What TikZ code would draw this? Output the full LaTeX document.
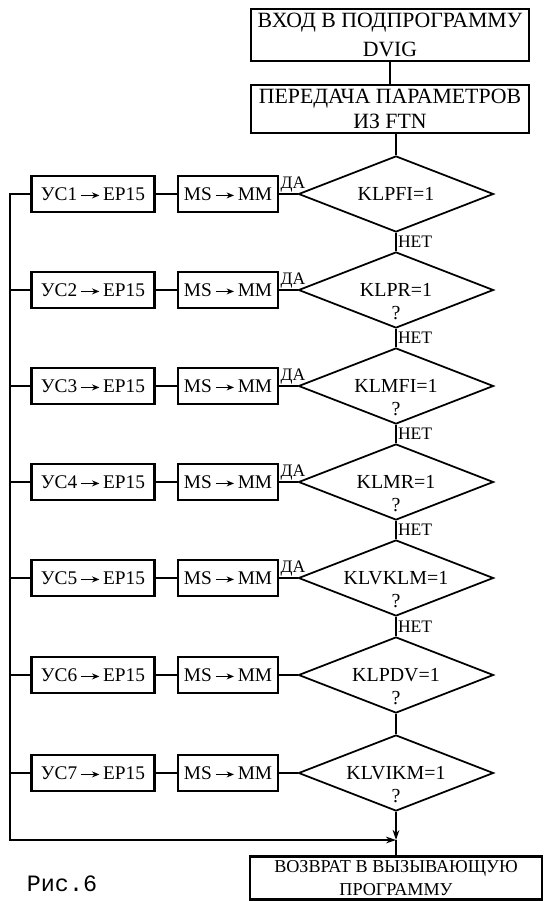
\documentclass[tikz,border=0pt]{standalone}
\usepackage{fontspec}
\setmainfont{Liberation Serif}
\newfontfamily\monofont{Liberation Mono}
\usetikzlibrary{arrows.meta,shapes.geometric}
\newcommand\passto{\,\tikz[baseline=-0.55ex]\draw[line width=1pt,-{Stealth[length=2.2mm,width=1.8mm]}] (0mm,0mm) -- (5.5mm,0mm);\,}

\begin{document}
\begin{tikzpicture}[
  x=0.03cm, y=-0.03cm,
  >={Stealth[length=3mm,width=2mm]},
  block/.style={
    draw,
    line width=2.3pt,
    fill=white,
    inner sep=1pt,
    align=center
  },
  bigbox/.style={
    block,
    minimum width=8.34cm,
    minimum height=1.56cm,
    font=\fontsize{18.6}{24}\selectfont
  },
  usbox/.style={
    block,
    minimum width=3.69cm,
    minimum height=1.08cm,
    font=\fontsize{16.5}{18}\selectfont
  },
  msbox/.style={usbox, minimum width=3.0cm},
  check/.style={
    diamond,
    draw,
    line width=1.5pt,
    aspect=2.57,
    minimum width=5.85cm,
    minimum height=2.28cm,
    inner sep=0pt,
    font=\fontsize{17}{19}\selectfont
  },
  ask/.style={label={[font=\fontsize{17}{19}\selectfont,yshift=-7mm]center:?}},
  link/.style={line width=1.5pt},
  edge/.style={->,line width=1.5pt},
  answer/.style={font=\fontsize{15}{17}\selectfont,inner sep=1pt}
]
\useasboundingbox (0,0) rectangle (547,901);

\node[bigbox] (entry) at (390,35) {ВХОД В ПОДПРОГРАММУ\\DVIG};
\node[bigbox, minimum height=1.44cm, font=\fontsize{18.6}{22}\selectfont] (params) at (390,109) {ПЕРЕДАЧА ПАРАМЕТРОВ\\ИЗ FTN};

\node[check] (d1) at (396,194) {KLPFI=1};
\node[check,ask] (d2) at (396,290) {KLPR=1};
\node[check,ask] (d3) at (396,386) {KLMFI=1};
\node[check,ask] (d4) at (396,482) {KLMR=1};
\node[check,ask] (d5) at (396,578) {KLVKLM=1};
\node[check,ask] (d6) at (396,675) {KLPDV=1};
\node[check,ask] (d7) at (396,773) {KLVIKM=1};

\node[msbox] (ms1) at (228,194) {MS\passto MM};
\node[msbox] (ms2) at (228,290) {MS\passto MM};
\node[msbox] (ms3) at (228,386) {MS\passto MM};
\node[msbox] (ms4) at (228,482) {MS\passto MM};
\node[msbox] (ms5) at (228,578) {MS\passto MM};
\node[msbox] (ms6) at (228,675) {MS\passto MM};
\node[msbox] (ms7) at (228,773) {MS\passto MM};

\node[usbox] (us1) at (93,194) {УС1\passto ЕР15};
\node[usbox] (us2) at (93,290) {УС2\passto ЕР15};
\node[usbox] (us3) at (93,386) {УС3\passto ЕР15};
\node[usbox] (us4) at (93,482) {УС4\passto ЕР15};
\node[usbox] (us5) at (93,578) {УС5\passto ЕР15};
\node[usbox] (us6) at (93,675) {УС6\passto ЕР15};
\node[usbox] (us7) at (93,773) {УС7\passto ЕР15};

\node[block, minimum width=8.76cm, minimum height=1.3cm, font=\fontsize{15.5}{19}\selectfont] (exit) at (396,878) {ВОЗВРАТ В ВЫЗЫВАЮЩУЮ\\ПРОГРАММУ};
\node[font=\monofont\fontsize{20}{22}\selectfont] (caption) at (62,884) {Рис.6};

\coordinate (corner) at (10,840);
\coordinate (join) at (396,840);

\draw[link] (entry) -- (params);
\draw[link] (params.south -| d1.north) -- (d1.north);
\draw[link] (d1) -- node[answer,right]{НЕТ} (d2);
\draw[link] (d2) -- node[answer,right]{НЕТ} (d3);
\draw[link] (d3) -- node[answer,right]{НЕТ} (d4);
\draw[link] (d4) -- node[answer,right]{НЕТ} (d5);
\draw[link] (d5) -- node[answer,right]{НЕТ} (d6);
\draw[link] (d6) -- (d7);

\draw[link] (ms1) -- node[answer,above,near end]{ДА} (d1);
\draw[link] (ms2) -- node[answer,above,near end]{ДА} (d2);
\draw[link] (ms3) -- node[answer,above,near end]{ДА} (d3);
\draw[link] (ms4) -- node[answer,above,near end]{ДА} (d4);
\draw[link] (ms5) -- node[answer,above,near end]{ДА} (d5);
\draw[link] (ms6) -- (d6);
\draw[link] (ms7) -- (d7);

\draw[link] (us1) -- (ms1);
\draw[link] (us2) -- (ms2);
\draw[link] (us3) -- (ms3);
\draw[link] (us4) -- (ms4);
\draw[link] (us5) -- (ms5);
\draw[link] (us6) -- (ms6);
\draw[link] (us7) -- (ms7);

\draw[edge] (us1.west) -| (corner) -- (join);
\draw[link] (us2.west) -- (us2.west -| corner);
\draw[link] (us3.west) -- (us3.west -| corner);
\draw[link] (us4.west) -- (us4.west -| corner);
\draw[link] (us5.west) -- (us5.west -| corner);
\draw[link] (us6.west) -- (us6.west -| corner);
\draw[link] (us7.west) -- (us7.west -| corner);

\draw[edge] (d7) -- (join);
\draw[link] (join) -- (exit);
\end{tikzpicture}
\end{document}
